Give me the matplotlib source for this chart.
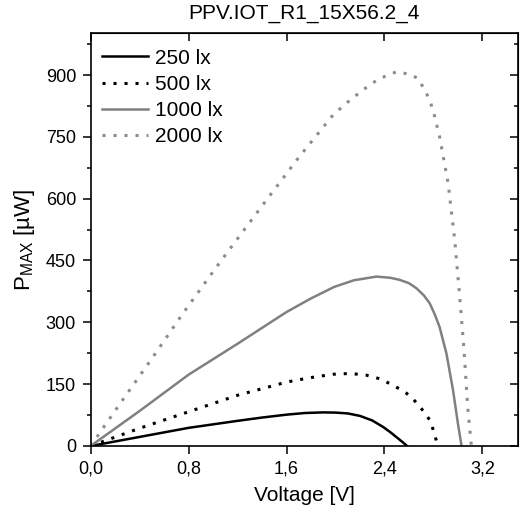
import matplotlib
matplotlib.use("Agg")
import matplotlib.pyplot as plt
from matplotlib.ticker import MultipleLocator

plt.rcParams["font.family"] = ["Liberation Sans", "DejaVu Sans"]
plt.rcParams["mathtext.fontset"] = "custom"
plt.rcParams["mathtext.rm"] = "Liberation Sans"

# ── data ──────────────────────────────────────────────────────────────────────
v_250 = [0, 0.4, 0.8, 1.2, 1.4, 1.6, 1.75, 1.9, 2.0, 2.1, 2.2, 2.3, 2.39, 2.45,
         2.5, 2.55, 2.585]
p_250 = [0, 22, 44, 61, 69, 76, 80, 81.5, 81, 79, 73, 62, 46, 33, 21, 9, 0]

v_500 = [0, 0.4, 0.8, 1.04, 1.2, 1.6, 1.8, 1.98, 2.12, 2.25, 2.35, 2.44, 2.52,
         2.58, 2.64, 2.69, 2.73, 2.77, 2.8, 2.825, 2.835]
p_500 = [0, 43, 83, 107, 123, 155, 166, 174, 176, 172, 164, 152, 139, 128, 112,
         95, 80, 63, 38, 12, 0]

v_1000 = [0, 0.4, 0.8, 1.04, 1.2, 1.6, 1.8, 1.99, 2.15, 2.335, 2.45, 2.525, 2.6,
          2.66, 2.72, 2.77, 2.81, 2.85, 2.906, 2.96, 3.0, 3.03]
p_1000 = [0, 85, 173, 218, 248, 325, 358, 386, 402, 411, 408, 403, 395, 383, 366,
          346, 320, 289, 225, 136, 55, 0]

v_2000 = [0, 0.25, 0.5, 0.75, 1.01, 1.2, 1.437, 1.7, 1.98, 2.09, 2.225, 2.35, 2.5,
          2.6, 2.675, 2.72, 2.77, 2.81, 2.85, 2.92, 2.974, 3.015, 3.05, 3.08, 3.11]
p_2000 = [0, 107, 212, 320, 427, 503, 597, 700, 803, 832, 864, 890, 908, 902, 892,
          868, 840, 800, 751, 638, 500, 362, 233, 95, 0]

x_ticks = [0.0, 0.8, 1.6, 2.4, 3.2]
x_tick_labels = ["0,0", "0,8", "1,6", "2,4", "3,2"]
y_ticks = [0, 150, 300, 450, 600, 750, 900]

fig = plt.figure(figsize=(5.21, 5.15), dpi=100)
ax = fig.add_axes([0.174, 0.134, 0.820, 0.802])

ax.plot(v_250, p_250, color="black", lw=1.8, label="250 lx")
ax.plot(v_500, p_500, color="black", lw=2.2, ls=(0, (1, 2.6)), label="500 lx")
ax.plot(v_1000, p_1000, color="#808080", lw=1.8, label="1000 lx")
ax.plot(v_2000, p_2000, color="#8c8c8c", lw=2.2, ls=(0, (1, 2.6)), label="2000 lx")

ax.set_xlim(0, 3.49)
ax.set_ylim(0, 1002)
ax.set_xticks(x_ticks)
ax.set_xticklabels(x_tick_labels)
ax.set_yticks(y_ticks)
ax.yaxis.set_minor_locator(MultipleLocator(75))
ax.tick_params(which="both", direction="out", labelsize=13, width=1.1, pad=5)
ax.tick_params(which="major", length=5.5)
ax.tick_params(which="minor", length=3)

# inward ticks on top and right, no labels
top = ax.secondary_xaxis("top")
top.set_xticks(x_ticks)
top.tick_params(direction="in", length=5.5, width=1.1, labeltop=False)
right = ax.secondary_yaxis("right")
right.set_yticks(y_ticks)
right.yaxis.set_minor_locator(MultipleLocator(75))
right.tick_params(which="both", direction="in", width=1.1, labelright=False)
right.tick_params(which="major", length=5.5)
right.tick_params(which="minor", length=3)

for s in ax.spines.values():
    s.set_linewidth(1.2)

ax.set_xlabel("Voltage [V]", fontsize=15, labelpad=6)
ax.set_ylabel(r"P$_\mathregular{MAX}$ [µW]", fontsize=16, labelpad=6)
ax.set_title("PPV.IOT_R1_15X56.2_4", fontsize=15, pad=10)

ax.legend(loc="upper left", bbox_to_anchor=(0.006, 0.982), frameon=False,
          fontsize=15, handlelength=2.25, handletextpad=0.32,
          labelspacing=0.34, borderpad=0.4, borderaxespad=0)

fig.savefig("out.png", dpi=100)
